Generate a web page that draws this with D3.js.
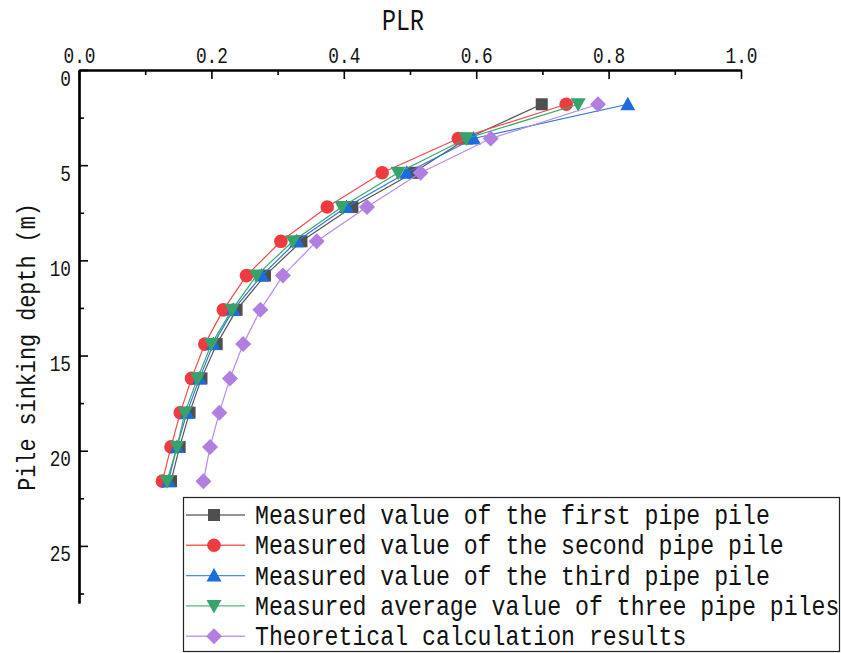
<!DOCTYPE html>
<html>
<head>
<meta charset="utf-8">
<script src="https://cdn.jsdelivr.net/npm/d3@7"></script>
<style>
  html, body { margin: 0; padding: 0; background: #fff; }
  svg { display: block; }
  text { font-family: "Liberation Mono", "DejaVu Sans Mono", monospace; fill: #111; }
</style>
</head>
<body>
<svg id="chart" width="841" height="653"></svg>
<script>
// ---------- data ----------
const depths = [1.8, 3.6, 5.4, 7.2, 9.0, 10.8, 12.6, 14.4, 16.2, 18.0, 19.8, 21.6];
const firstPile   = [0.699, 0.586, 0.505, 0.413, 0.336, 0.281, 0.238, 0.208, 0.185, 0.167, 0.152, 0.139];
const secondPile  = [0.736, 0.573, 0.458, 0.375, 0.305, 0.253, 0.218, 0.190, 0.170, 0.153, 0.139, 0.126];
const thirdPile   = [0.829, 0.596, 0.495, 0.404, 0.329, 0.276, 0.233, 0.203, 0.182, 0.163, 0.148, 0.135];
const averagePile = [0.754, 0.585, 0.482, 0.397, 0.323, 0.268, 0.231, 0.200, 0.179, 0.160, 0.148, 0.133];
const theoretical = [0.784, 0.622, 0.516, 0.435, 0.359, 0.308, 0.274, 0.248, 0.228, 0.212, 0.198, 0.188];

const seriesNames = [
  "Measured value of the first pipe pile",
  "Measured value of the second pipe pile",
  "Measured value of the third pipe pile",
  "Measured average value of three pipe piles",
  "Theoretical calculation results"
];
const xMajorTicks = [0, 0.2, 0.4, 0.6, 0.8, 1.0];
const xMinorTicks = [0.1, 0.3, 0.5, 0.7, 0.9];
const yMajorTicks = [0, 5, 10, 15, 20, 25];
const yMinorTicks = [2.5, 7.5, 12.5, 17.5, 22.5, 27.5];
const xTitle = "PLR";
const yTitle = "Pile sinking depth (m)";

// ---------- styles ----------
const colors = ["#4f4f4f", "#ef3b3f", "#1b6cdc", "#36a46a", "#b07fe0"];
const lineColors = ["#555555", "#f04a4e", "#2f78de", "#3aa86c", "#b98be3"];
const symbols = ["square", "circle", "triangleUp", "triangleDown", "diamond"];
const values = [firstPile, secondPile, thirdPile, averagePile, theoretical];

const svg = d3.select("#chart");
const x = d3.scaleLinear().domain([0, 1]).range([79, 741]);
const y = d3.scaleLinear().domain([0, 28]).range([70, 603]);
const SY = 1.2; // vertical stretch for text to mimic tall glyphs

function drawSymbol(g, type, cx, cy, color) {
  if (type === "square") {
    g.append("rect").attr("x", cx - 6).attr("y", cy - 6).attr("width", 12).attr("height", 12).attr("fill", color);
  } else if (type === "circle") {
    g.append("circle").attr("cx", cx).attr("cy", cy).attr("r", 6.8).attr("fill", color);
  } else if (type === "triangleUp") {
    g.append("path").attr("d", `M${cx},${cy - 7.5}L${cx + 7.5},${cy + 6}L${cx - 7.5},${cy + 6}Z`).attr("fill", color);
  } else if (type === "triangleDown") {
    g.append("path").attr("d", `M${cx},${cy + 7.5}L${cx + 7.5},${cy - 6}L${cx - 7.5},${cy - 6}Z`).attr("fill", color);
  } else if (type === "diamond") {
    g.append("path").attr("d", `M${cx},${cy - 8}L${cx + 8},${cy}L${cx},${cy + 8}L${cx - 8},${cy}Z`).attr("fill", color);
  }
}

// ---------- axes ----------
const topAxisMinor = d3.axisTop(x).tickValues(xMinorTicks).tickSize(-5).tickSizeOuter(0).tickFormat("");
const topAxis = d3.axisTop(x).tickValues(xMajorTicks).tickSize(-9).tickSizeOuter(0)
  .tickFormat(d3.format(".1f")).tickPadding(6);
const gxm = svg.append("g").attr("transform", "translate(0,70)").call(topAxisMinor);
const gx = svg.append("g").attr("transform", "translate(0,70)").call(topAxis);
[gx, gxm].forEach(g => {
  g.select(".domain").attr("stroke", "#000").attr("stroke-width", 2.2);
  g.selectAll(".tick line").attr("stroke", "#000").attr("stroke-width", 1.6);
});
gx.selectAll(".tick text")
  .attr("font-family", "Liberation Mono").attr("font-size", 17.8).attr("fill", "#111")
  .attr("y", 0).attr("dy", 0)
  .attr("transform", `translate(0,-7) scale(1,${SY})`);

const leftAxisMinor = d3.axisLeft(y).tickValues(yMinorTicks).tickSize(-5).tickSizeOuter(0).tickFormat("");
const leftAxis = d3.axisLeft(y).tickValues(yMajorTicks).tickSize(-9).tickSizeOuter(0).tickPadding(7);
const gym = svg.append("g").attr("transform", "translate(79,0)").call(leftAxisMinor);
const gy = svg.append("g").attr("transform", "translate(79,0)").call(leftAxis);
[gy, gym].forEach(g => {
  g.select(".domain").attr("stroke", "#000").attr("stroke-width", 2.2);
  g.selectAll(".tick line").attr("stroke", "#000").attr("stroke-width", 1.6);
});
gy.selectAll(".tick text")
  .attr("font-family", "Liberation Mono").attr("font-size", 17.8).attr("fill", "#111")
  .attr("x", 0).attr("dy", 0)
  .attr("transform", `translate(-8,15) scale(1,${SY})`);

// titles
svg.append("text").attr("text-anchor", "middle").attr("font-size", 23.3)
  .attr("transform", `translate(403,30) scale(1,1.28)`).text(xTitle);
svg.append("text").attr("text-anchor", "middle").attr("font-size", 21.8)
  .attr("transform", `translate(35,347) rotate(-90) scale(1,${SY})`).text(yTitle);

// ---------- series ----------
const line = d3.line().x(d => x(d[0])).y(d => y(d[1]));
values.forEach((vals, i) => {
  const pts = vals.map((v, j) => [v, depths[j]]);
  const g = svg.append("g");
  g.append("path").attr("d", line(pts)).attr("fill", "none")
    .attr("stroke", lineColors[i]).attr("stroke-width", 1.2);
  pts.forEach(p => drawSymbol(g, symbols[i], x(p[0]), y(p[1]), colors[i]));
});

// ---------- legend ----------
const lg = svg.append("g");
lg.append("rect").attr("x", 183.5).attr("y", 497.5).attr("width", 656).attr("height", 154)
  .attr("fill", "#fff").attr("stroke", "#222").attr("stroke-width", 1.2);
seriesNames.forEach((name, i) => {
  const cy = 515 + i * 30.3;
  lg.append("line").attr("x1", 186).attr("x2", 245).attr("y1", cy).attr("y2", cy)
    .attr("stroke", lineColors[i]).attr("stroke-width", 1.4).attr("opacity", 0.85);
  drawSymbol(lg, symbols[i], 214, cy, colors[i]);
  lg.append("text").attr("font-size", 23.2)
    .attr("transform", `translate(255,${cy + 9}) scale(1,${SY})`).text(name);
});
</script>
</body>
</html>
